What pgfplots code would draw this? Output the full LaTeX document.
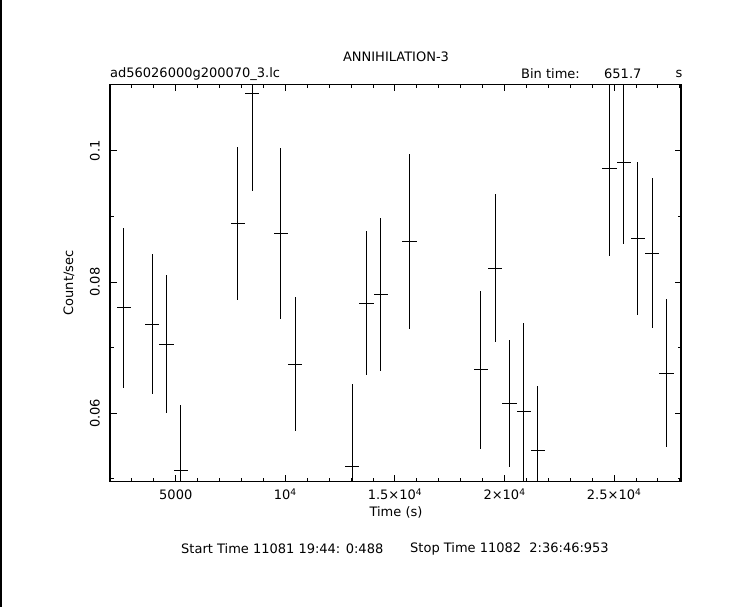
\documentclass[border=0pt]{standalone}
\usepackage{fontspec}
\setmainfont{DejaVu Sans}
\usepackage{pgfplots}
\pgfplotsset{compat=1.18}
\usepackage{pgfplotstable}

\pgfplotstableread{
t y ex ey
2625 0.0761 325.85 0.0122
3928.4 0.0736 325.85 0.0107
4580.1 0.0705 325.85 0.0105
5231.8 0.0512 325.85 0.0100
7838.6 0.0889 325.85 0.0117
8490.3 0.1088 325.85 0.0149
9793.7 0.0874 325.85 0.0130
10445.4 0.0675 325.85 0.0102
13052.2 0.0519 325.85 0.0126
13703.9 0.0768 325.85 0.0109
14355.6 0.0781 325.85 0.0116
15659 0.0862 325.85 0.0133
18917.5 0.0666 325.85 0.0120
19569.2 0.0821 325.85 0.0113
20220.9 0.0615 325.85 0.0097
20872.6 0.0603 325.85 0.0135
21524.3 0.0543 325.85 0.0098
24782.8 0.0973 325.85 0.0133
25434.5 0.0982 325.85 0.0124
26086.2 0.0866 325.85 0.0117
26737.9 0.0844 325.85 0.0114
27389.6 0.0661 325.85 0.0113
}\lc

\newcommand{\pf}{\fontsize{13bp}{15bp}\selectfont}

\begin{document}
\begin{tikzpicture}
\path[use as bounding box] (0,0) rectangle (743bp,607bp);
\draw[line width=2bp] (1bp,0) -- (1bp,607bp);
\begin{axis}[
  at={(110bp,125.5bp)}, anchor=south west,
  width=571bp, height=397bp, scale only axis,
  xmin=2000, xmax=28050, ymin=0.0496, ymax=0.1101,
  axis line style={line width=1.1bp},
  tick style={line width=1bp, black},
  tick align=inside, xtick pos=both, ytick pos=both,
  major tick length=6.5bp, minor tick length=3.5bp,
  xtick={5000,10000,15000,20000,25000},
  xticklabels={5000, 10\textsuperscript{4}, 1.5×10\textsuperscript{4}, 2×10\textsuperscript{4}, 2.5×10\textsuperscript{4}},
  minor xtick={2000,3000,...,28000},
  ytick={0.06,0.08,0.1},
  yticklabels={0.06,0.08,0.1},
  minor ytick={0.05,0.07,0.09},
  tick label style={font=\pf},
  xticklabel style={anchor=base, inner sep=0pt},
  xticklabel shift=18.5bp,
  yticklabel style={rotate=90, anchor=south, inner sep=0pt},
  yticklabel shift=10bp,
  scaled ticks=false,
]
\addplot[draw=none, mark=none,
  error bars/.cd, x dir=both, x explicit, y dir=both, y explicit,
  error mark=none, error bar style={draw=black, line width=1bp, solid}]
  table[x=t, y=y, x error=ex, y error=ey] {\lc};
\end{axis}
\node[font=\pf] at (396bp,550bp) {ANNIHILATION-3};
\node[font=\pf, anchor=west, inner sep=0pt] at (110bp,533bp) {ad56026000g200070\_3.lc};
\node[font=\pf, anchor=west, inner sep=0pt] at (521bp,533bp) {Bin time:};
\node[font=\pf, anchor=west, inner sep=0pt] at (604bp,533bp) {651.7};
\node[font=\pf] at (679bp,533bp) {s};
\node[font=\pf] at (396bp,94.5bp) {Time (s)};
\node[font=\pf, rotate=90] at (69bp,324bp) {Count/sec};
\node[font=\pf, anchor=west, inner sep=0pt] at (181bp,58bp) {Start Time 11081 19:44: 0:488};
\node[font=\pf, anchor=west, inner sep=0pt] at (410bp,58bp) {Stop Time 11082\ \ 2:36:46:953};
\end{tikzpicture}
\end{document}
